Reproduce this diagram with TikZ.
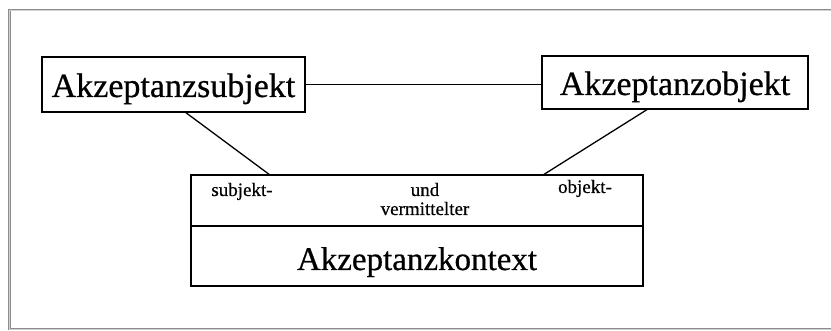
\documentclass[tikz,border=0pt]{standalone}
\usepackage{fontspec}
\setmainfont{Liberation Serif}
\newfontfamily\scanfont[FakeBold=0.6]{Liberation Serif}
\begin{document}
\begin{tikzpicture}[x=1pt,y=-1pt,
  boxstyle/.style={draw=black,line width=1.4pt,inner sep=0pt,outer sep=0pt},
  bigtext/.style={font=\scanfont\fontsize{34}{38}\selectfont},
  smalltext/.style={font=\scanfont\fontsize{19}{22}\selectfont,inner sep=0pt,anchor=base},
  conn/.style={draw=black,line width=1.3pt}]
\useasboundingbox (0,0) rectangle (831,331);
% outer frame
\draw[draw=gray!90,line width=0.9pt,double=gray!35,double distance=0.9pt]
  (845,10) -- (9.5,10) -- (9.5,329) -- (845,329);
% nodes
\node[boxstyle,bigtext,minimum width=263pt,minimum height=55pt,text height=25pt,text depth=0pt]
  (subj) at (173.5,84.5) {Akzeptanzsubjekt};
\node[boxstyle,bigtext,minimum width=266pt,minimum height=53pt,text height=25pt,text depth=0pt]
  (obj) at (675,82.5) {Akzeptanzobjekt};
\node[boxstyle,minimum width=452pt,minimum height=51pt] (ctxtop) at (417,200.5) {};
\node[boxstyle,font=\scanfont\fontsize{33}{38}\selectfont,minimum width=452pt,minimum height=60pt,text height=28pt,text depth=0pt]
  (ctxbot) at (417,256) {Akzeptanzkontext};
\node[smalltext] (t1) at (242,196) {subjekt-};
\node[smalltext] (t2) at (425,196) {und};
\node[smalltext] (t3) at (425,215) {vermittelter};
\node[smalltext] (t4) at (585,193) {objekt-};
% connectors
\draw[conn] (subj.east) -- (subj.east -| obj.west);
\draw[conn] ([xshift=11.5pt]subj.south) -- ([xshift=79pt]ctxtop.north west);
\draw[conn] ([xshift=-27pt]obj.south) -- ([xshift=352pt]ctxtop.north west);
\end{tikzpicture}
\end{document}
